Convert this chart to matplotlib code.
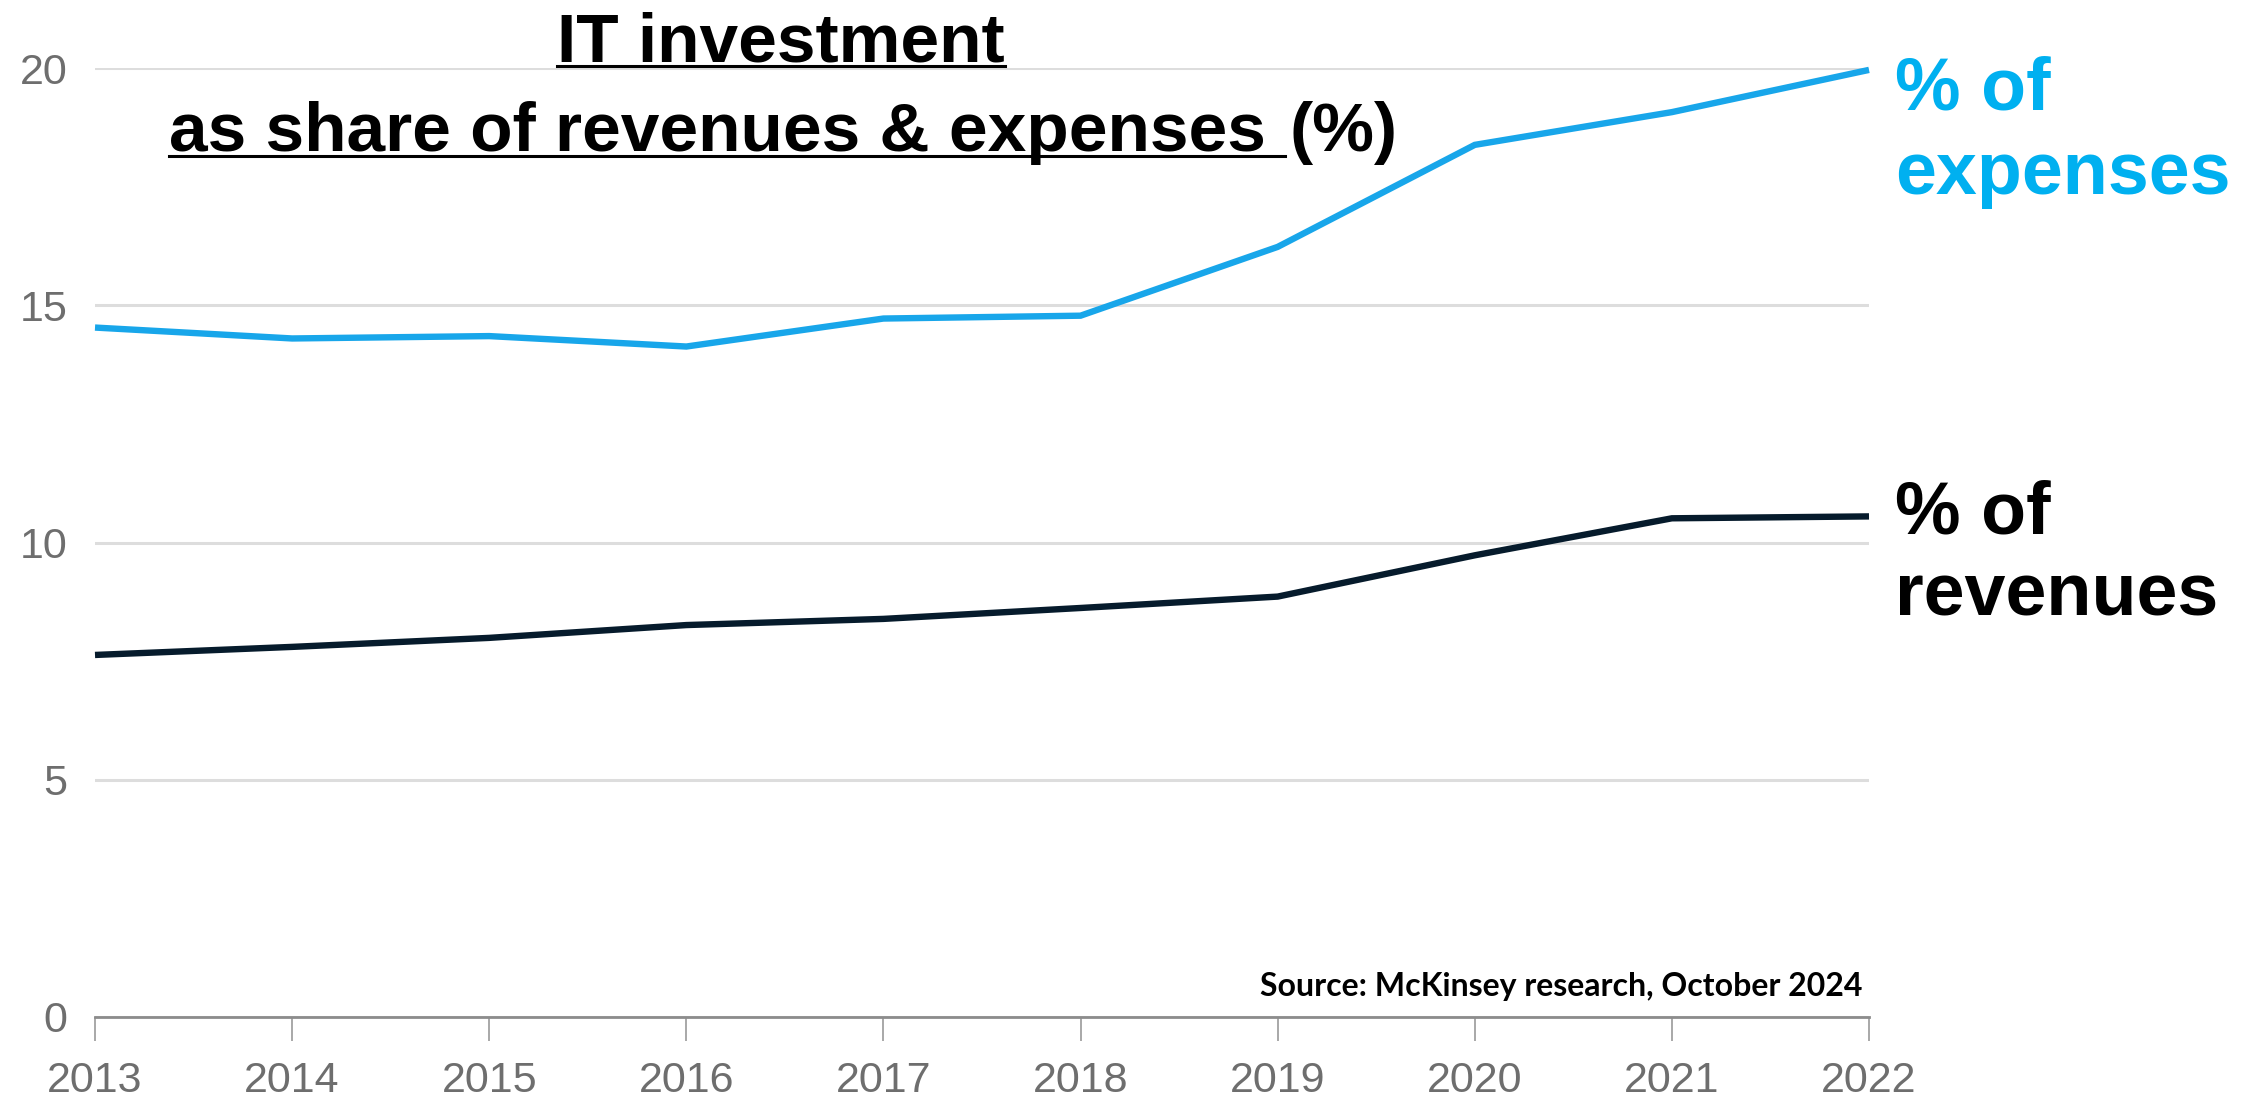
import matplotlib
matplotlib.use("Agg")
import matplotlib.pyplot as plt
from matplotlib.lines import Line2D

# IT investment as share of revenues and expenses (%)
years = [2013, 2014, 2015, 2016, 2017, 2018, 2019, 2020, 2021, 2022]
pct_expenses = [14.53, 14.30, 14.35, 14.13, 14.72, 14.78, 16.23, 18.38, 19.07, 19.96]
pct_revenues = [7.63, 7.80, 7.99, 8.26, 8.39, 8.62, 8.86, 9.73, 10.51, 10.55]
y_ticks = [0, 5, 10, 15, 20]

title_line1 = "IT investment"
title_line2 = "as share of revenues & expenses"
title_unit = "(%)"
source_note = "Source: McKinsey research, October 2024"

BLUE_LINE = "#18a6ea"
BLUE_TEXT = "#00b0f0"
NAVY = "#061b2c"
W, H = 2263, 1106

fig = plt.figure(figsize=(W / 100, H / 100), dpi=100)
fig.patch.set_facecolor("white")
ax = fig.add_axes([95 / W, 1 - 1017 / H, (1869 - 95) / W, (1017 - 68) / H])

ax.plot(years, pct_expenses, color=BLUE_LINE, lw=4.6, solid_capstyle="butt",
        solid_joinstyle="miter", clip_on=False, zorder=3)
ax.plot(years, pct_revenues, color=NAVY, lw=4.6, solid_capstyle="butt",
        solid_joinstyle="miter", clip_on=False, zorder=3)

ax.set_xlim(years[0], years[-1])
ax.set_ylim(0, 20)
ax.set_xticks(years)
ax.set_yticks(y_ticks)
ax.set_yticklabels([str(v) for v in y_ticks])

for side in ["top", "right", "left"]:
    ax.spines[side].set_visible(False)
ax.spines["bottom"].set_color("#8c8c8c")
ax.spines["bottom"].set_linewidth(2)

ax.yaxis.grid(True, color="#dddddd", lw=2.2)
ax.set_axisbelow(True)
ax.tick_params(axis="y", length=0, pad=20, labelsize=31, labelcolor="#6e6e6e")
ax.tick_params(axis="x", length=17, width=1.2, color="#9a9a9a", pad=15,
               labelsize=31, labelcolor="#6e6e6e")
for lab in ax.get_xticklabels() + ax.get_yticklabels():
    lab.set_family("Liberation Sans")

# series labels next to the last point of each line
lab_kw = dict(xycoords="data", textcoords="offset pixels", ha="left",
              va="baseline", fontsize=53, fontweight="bold",
              family="Liberation Sans", annotation_clip=False)
ax.annotate("% of", (years[-1], pct_expenses[-1]), xytext=(26, -40),
            color=BLUE_TEXT, **lab_kw)
ax.annotate("expenses", (years[-1], pct_expenses[-1]), xytext=(26, -124),
            color=BLUE_TEXT, **lab_kw)
ax.annotate("% of", (years[-1], pct_revenues[-1]), xytext=(26, -17),
            color="black", **lab_kw)
ax.annotate("revenues", (years[-1], pct_revenues[-1]), xytext=(26, -99),
            color="black", **lab_kw)

fig.text(1862 / W, 1 - 996 / H, source_note, ha="right", va="baseline",
         fontsize=23, fontweight="bold", family="Lato", color="black")

# underlined title
t_kw = dict(fontsize=50, fontweight="bold", family="Liberation Sans",
            color="black", va="baseline")
t1 = fig.text(781 / W, 1 - 61 / H, title_line1, ha="center", **t_kw)
t2 = fig.text(169 / W, 1 - 151 / H, title_line2, ha="left", **t_kw)
fig.canvas.draw()
renderer = fig.canvas.get_renderer()
bb2 = t2.get_window_extent(renderer)
space_w = 0.278 * 50 * 100 / 72
t3 = fig.text((bb2.x1 + space_w + 4) / W, 1 - 151 / H, title_unit, ha="left", **t_kw)

def underline(txt, x_end=None, drop=5):
    bb = txt.get_window_extent(renderer)
    _, y = fig.transFigure.transform(txt.get_position())
    x1 = bb.x1 if x_end is None else x_end
    fig.add_artist(Line2D([bb.x0 / W, x1 / W], [(y - drop) / H, (y - drop) / H],
                          transform=fig.transFigure, color="black", lw=2.2))

underline(t1)
underline(t2, x_end=bb2.x1 + space_w)

fig.savefig("out.png", dpi=100, facecolor="white")
